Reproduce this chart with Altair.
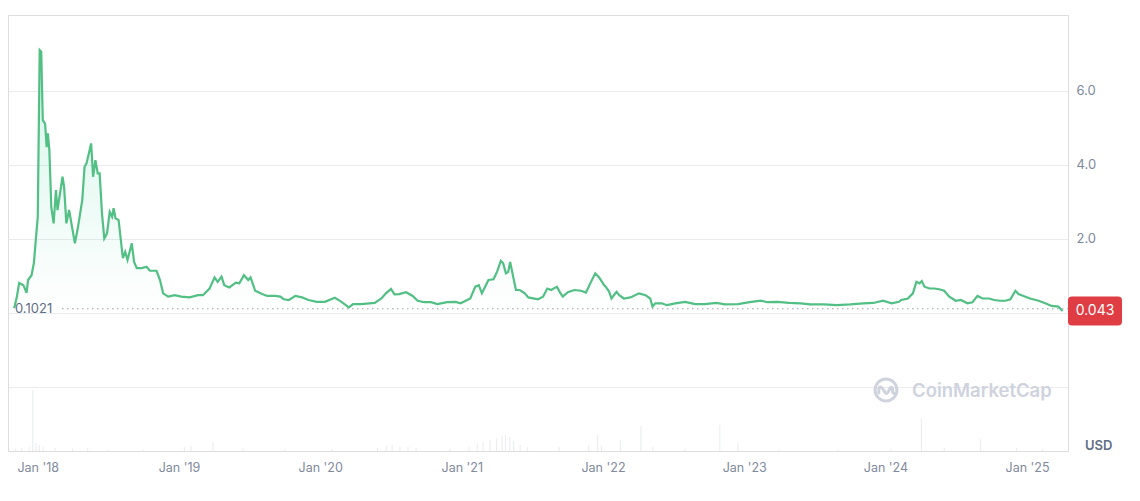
import altair as alt
import pandas as pd

# ---- price series (USD) ----
dates = [
    "2017-11-01", "2017-11-08", "2017-11-14", "2017-11-25", "2017-12-03", "2017-12-07",
    "2017-12-16", "2017-12-22", "2017-12-29", "2018-01-01", "2018-01-06", "2018-01-10",
    "2018-01-14", "2018-01-20", "2018-01-24", "2018-01-27", "2018-01-31", "2018-02-05",
    "2018-02-11", "2018-02-17", "2018-02-21", "2018-03-06", "2018-03-10", "2018-03-16",
    "2018-03-23", "2018-04-01", "2018-04-07", "2018-04-15", "2018-04-26", "2018-05-02",
    "2018-05-07", "2018-05-13", "2018-05-19", "2018-05-24", "2018-05-30", "2018-06-05",
    "2018-06-10", "2018-06-16", "2018-06-22", "2018-06-29", "2018-07-06", "2018-07-12",
    "2018-07-16", "2018-07-21", "2018-07-29", "2018-08-09", "2018-08-15", "2018-08-21",
    "2018-09-01", "2018-09-07", "2018-09-14", "2018-09-27", "2018-10-09", "2018-10-18",
    "2018-11-04", "2018-11-13", "2018-11-21", "2018-12-04", "2018-12-21", "2019-01-07",
    "2019-01-29", "2019-02-19", "2019-03-04", "2019-03-21", "2019-04-03", "2019-04-11",
    "2019-04-21", "2019-04-28", "2019-05-11", "2019-05-28", "2019-06-06", "2019-06-18",
    "2019-06-29", "2019-07-05", "2019-07-17", "2019-08-04", "2019-08-17", "2019-09-07",
    "2019-09-20", "2019-09-29", "2019-10-12", "2019-10-29", "2019-11-15", "2019-12-02",
    "2019-12-23", "2020-01-13", "2020-02-08", "2020-02-25", "2020-03-15", "2020-03-26",
    "2020-04-16", "2020-05-21", "2020-06-07", "2020-06-19", "2020-07-02", "2020-07-11",
    "2020-07-23", "2020-08-10", "2020-08-27", "2020-09-09", "2020-09-26", "2020-10-13",
    "2020-10-30", "2020-11-24", "2020-12-16", "2020-12-29", "2021-01-15", "2021-01-23",
    "2021-02-05", "2021-02-14", "2021-02-22", "2021-03-11", "2021-03-24", "2021-04-02",
    "2021-04-12", "2021-04-18", "2021-04-25", "2021-05-01", "2021-05-06", "2021-05-12",
    "2021-05-21", "2021-05-31", "2021-06-13", "2021-06-22", "2021-07-17", "2021-07-30",
    "2021-08-10", "2021-08-20", "2021-09-04", "2021-09-11", "2021-09-19", "2021-10-02",
    "2021-10-19", "2021-11-05", "2021-11-18", "2021-12-01", "2021-12-12", "2021-12-22",
    "2022-01-04", "2022-01-08", "2022-01-17", "2022-01-23", "2022-02-05", "2022-02-12",
    "2022-02-24", "2022-03-13", "2022-04-04", "2022-04-21", "2022-05-03", "2022-05-09",
    "2022-05-16", "2022-06-02", "2022-06-15", "2022-07-07", "2022-08-01", "2022-08-27",
    "2022-09-21", "2022-10-21", "2022-11-12", "2022-12-16", "2023-01-15", "2023-02-13",
    "2023-03-02", "2023-03-28", "2023-04-27", "2023-05-27", "2023-06-21", "2023-07-26",
    "2023-08-29", "2023-10-02", "2023-11-05", "2023-12-01", "2023-12-26", "2024-01-17",
    "2024-02-05", "2024-02-11", "2024-02-28", "2024-03-12", "2024-03-21", "2024-03-29",
    "2024-04-04", "2024-04-11", "2024-04-24", "2024-05-07", "2024-05-19", "2024-06-01",
    "2024-06-14", "2024-07-01", "2024-07-14", "2024-07-31", "2024-08-13", "2024-08-26",
    "2024-09-08", "2024-09-25", "2024-10-08", "2024-10-24", "2024-11-06", "2024-11-19",
    "2024-12-02", "2024-12-10", "2024-12-23", "2025-01-09", "2025-01-31", "2025-02-17",
    "2025-03-06", "2025-03-23", "2025-04-03",
]
prices = [
    0.12, 0.43, 0.80, 0.74, 0.53, 0.88,
    1.01, 1.34, 2.23, 2.58, 7.09, 7.05,
    5.20, 5.10, 4.47, 4.84, 4.39, 2.85,
    2.41, 3.31, 2.77, 3.67, 3.40, 2.41,
    2.77, 2.23, 1.87, 2.31, 3.04, 3.94,
    4.03, 4.30, 4.57, 3.67, 4.12, 3.76,
    3.76, 2.68, 2.00, 2.14, 2.72, 2.59,
    2.82, 2.55, 2.50, 1.47, 1.64, 1.42,
    1.87, 1.37, 1.20, 1.20, 1.24, 1.13,
    1.13, 0.88, 0.52, 0.43, 0.47, 0.43,
    0.41, 0.47, 0.47, 0.65, 0.95, 0.83,
    0.97, 0.74, 0.68, 0.81, 0.79, 1.01,
    0.88, 0.95, 0.59, 0.50, 0.45, 0.45,
    0.43, 0.36, 0.34, 0.45, 0.41, 0.34,
    0.29, 0.29, 0.40, 0.29, 0.14, 0.23,
    0.23, 0.26, 0.38, 0.52, 0.64, 0.49,
    0.50, 0.55, 0.45, 0.32, 0.28, 0.28,
    0.23, 0.28, 0.29, 0.25, 0.34, 0.38,
    0.70, 0.74, 0.52, 0.88, 0.90, 1.10,
    1.40, 1.33, 1.06, 1.10, 1.37, 1.06,
    0.61, 0.61, 0.52, 0.41, 0.36, 0.43,
    0.65, 0.61, 0.70, 0.56, 0.43, 0.55,
    0.61, 0.59, 0.54, 0.83, 1.06, 0.95,
    0.74, 0.70, 0.56, 0.38, 0.56, 0.47,
    0.38, 0.41, 0.52, 0.47, 0.38, 0.16,
    0.25, 0.25, 0.20, 0.25, 0.29, 0.23,
    0.23, 0.26, 0.22, 0.23, 0.28, 0.32,
    0.28, 0.29, 0.26, 0.25, 0.22, 0.22,
    0.20, 0.22, 0.25, 0.26, 0.32, 0.25,
    0.29, 0.34, 0.38, 0.52, 0.83, 0.79,
    0.85, 0.70, 0.65, 0.65, 0.63, 0.59,
    0.43, 0.32, 0.34, 0.25, 0.28, 0.45,
    0.38, 0.38, 0.34, 0.32, 0.32, 0.36,
    0.59, 0.50, 0.45, 0.38, 0.32, 0.25,
    0.18, 0.16, 0.043,
]

# ---- volume (millions USD, approximate) ----
vol_dates = [
    "2017-11-05", "2017-11-20", "2017-12-10", "2017-12-19", "2017-12-28", "2018-01-05",
    "2018-01-15", "2018-02-15", "2018-04-01", "2018-05-10", "2018-07-01", "2018-10-01",
    "2019-01-15", "2019-02-01", "2019-03-30", "2019-06-15", "2019-10-01", "2020-02-01",
    "2020-05-28", "2020-06-20", "2020-07-05", "2020-07-25", "2020-08-15", "2020-09-05",
    "2020-12-01", "2021-01-20", "2021-02-10", "2021-02-25", "2021-03-15", "2021-04-01",
    "2021-04-15", "2021-04-24", "2021-05-05", "2021-05-15", "2021-06-01", "2021-06-20",
    "2021-09-10", "2021-11-25", "2021-12-18", "2021-12-28", "2022-02-15", "2022-04-09",
    "2022-05-10", "2022-08-01", "2022-10-30", "2022-12-16", "2023-04-01", "2023-09-01",
    "2024-01-15", "2024-04-03", "2024-06-01", "2024-09-03", "2024-12-05", "2025-02-10",
]
volumes = [
    20, 30, 40, 610, 80, 60,
    40, 30, 25, 30, 15, 15,
    40, 50, 90, 30, 20, 20,
    30, 50, 60, 45, 40, 30,
    20, 40, 70, 90, 110, 130,
    150, 160, 140, 100, 60, 40,
    40, 60, 160, 50, 110, 250,
    40, 20, 260, 80, 15, 15,
    20, 330, 30, 120, 30, 20,
]

# ---- axis / labels ----
year_ticks = ["2018-01-01", "2019-01-01", "2020-01-01", "2021-01-01",
              "2022-01-01", "2023-01-01", "2024-01-01", "2025-01-01"]
price_grid = [-2, 0, 2, 4, 6]
start_price = 0.1021
last_price = 0.043
x_domain = ["2017-10-29", "2025-04-04"]
y_domain = [-3.74, 8.04]

df = pd.DataFrame({"date": pd.to_datetime(dates), "price": prices})
vdf = pd.DataFrame({"date": pd.to_datetime(vol_dates), "volume": volumes})

FONT = "Inter"
GREEN = "#52bf84"
GRID = "#e9ebef"

xscale = alt.Scale(domain=x_domain)
yscale = alt.Scale(domain=y_domain, nice=False, zero=False)

x_axis = alt.Axis(
    values=[pd.Timestamp(t).isoformat() for t in year_ticks],
    format="%b '%y", labelColor="#808a9d", labelFontSize=12.5, labelFont=FONT,
    labelPadding=10, ticks=False, domain=False, grid=False, title=None,
)

area = alt.Chart(df).mark_area(
    interpolate="linear",
    color=alt.Gradient(
        gradient="linear",
        stops=[alt.GradientStop(color="rgba(22,199,132,0.18)", offset=0),
               alt.GradientStop(color="rgba(22,199,132,0.0)", offset=1)],
        x1=1, x2=1, y1=0, y2=1,
    ),
).encode(
    x=alt.X("date:T", scale=xscale, axis=x_axis),
    y=alt.Y("price:Q", scale=yscale, axis=alt.Axis(
        values=price_grid, orient="right", title=None, ticks=False, domain=False,
        grid=True, gridColor=GRID, gridWidth=1, gridOpacity=1,
        labelColor="#808a9d", labelFontSize=13,
        labelFont=FONT, labelPadding=8,
        labelExpr="datum.value >= 2 ? format(datum.value, '.1f') : ''",
    )),
    y2=alt.datum(0),
)

line = alt.Chart(df).mark_line(color=GREEN, strokeWidth=2.2, interpolate="linear").encode(
    x=alt.X("date:T", scale=xscale),
    y=alt.Y("price:Q", scale=yscale),
)

start_rule = alt.Chart(df.head(1)).mark_rule(
    color="#9aa1ad", strokeDash=[1.5, 3.5], strokeWidth=1
).encode(
    y=alt.datum(start_price, scale=yscale), x=alt.value(54), x2=alt.value(1060)
)

start_text = alt.Chart(df.head(1)).mark_text(
    text="0.1021", align="left", baseline="middle", font=FONT, fontSize=13,
    color="#616e85",
).encode(y=alt.datum(start_price), x=alt.value(7))

box_path = ("M-1.586,-1 L1.586,-1 Q1.862,-1 1.862,-0.724 L1.862,0.724 "
            "Q1.862,1 1.586,1 L-1.586,1 Q-1.862,1 -1.862,0.724 L-1.862,-0.724 "
            "Q-1.862,-1 -1.586,-1 Z")
last_box = alt.Chart(df.head(1)).mark_point(
    shape=box_path, size=841, filled=True, color="#e03c44", opacity=1, strokeWidth=0
).encode(y=alt.datum(last_price), x=alt.value(1087))

last_text = alt.Chart(df.head(1)).mark_text(
    text="0.043", align="center", baseline="middle", font=FONT, fontSize=14,
    color="white",
).encode(y=alt.datum(last_price), x=alt.value(1087))

price_layer = alt.layer(area, line, start_rule, start_text, last_box, last_text)

vol = alt.Chart(vdf).mark_bar(color="#eceef2", size=1.2).encode(
    x=alt.X("date:T", scale=xscale),
    y=alt.Y("volume:Q", scale=alt.Scale(domain=[0, 4360], nice=False), axis=None),
)

# watermark and unit label
wm_ring = alt.Chart(df.head(1)).mark_point(
    shape="circle", size=480, filled=False, color="#cfd3de", strokeWidth=3, opacity=1
).encode(x=alt.value(878), y=alt.value(375))
wm_wave = alt.Chart(df.head(1)).mark_point(
    shape="M-0.6,0.35 L-0.6,-0.05 Q-0.55,-0.4 -0.3,-0.15 L-0.05,0.25 Q0.05,0.35 0.15,0.2 "
          "L0.35,-0.15 Q0.5,-0.35 0.55,-0.05 L0.55,0.15 Q0.6,0.35 0.85,0.25",
    size=576, filled=False, color="#cfd3de", strokeWidth=3, opacity=1,
).encode(x=alt.value(878), y=alt.value(375))
wm_text = alt.Chart(df.head(1)).mark_text(
    text="CoinMarketCap", align="left", baseline="middle", font=FONT, fontSize=18.5,
    fontWeight=600, color="#cfd3de",
).encode(x=alt.value(904), y=alt.value(376))
usd_text = alt.Chart(df.head(1)).mark_text(
    text="USD", align="left", baseline="middle", font=FONT, fontSize=13,
    fontWeight=600, color="#616e85",
).encode(x=alt.value(1077), y=alt.value(431))

chart = alt.layer(
    vol, price_layer, wm_ring, wm_wave, wm_text, usd_text
).resolve_scale(y="independent").properties(
    width=1060, height=436,
    padding={"left": 0, "top": 7, "right": 63, "bottom": 40},
    autosize=alt.AutoSizeParams(type="none"),
).configure_view(stroke=GRID, strokeWidth=1).configure(background="white")

chart.save("out.html", embed_options={"renderer": "svg", "actions": False})
